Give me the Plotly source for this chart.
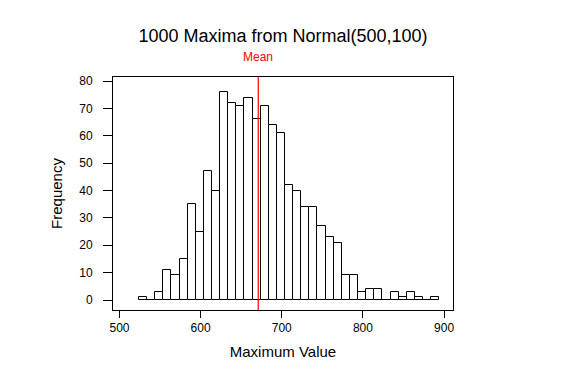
import plotly.graph_objects as go

# Histogram data
bin_start = 524
bin_width = 10
counts = [1, 0, 3, 11, 9, 15, 35, 25, 47, 40, 76, 72, 71, 74, 66, 71, 64, 61,
          42, 40, 34, 34, 27, 23, 21, 9, 9, 3, 4, 4, 0, 3, 1, 3, 1, 0, 1]
mean_value = 671
x_ticks = [500, 600, 700, 800, 900]
y_ticks = [0, 10, 20, 30, 40, 50, 60, 70, 80]

centers = [bin_start + bin_width * (i + 0.5) for i in range(len(counts))]

W, H = 559, 380  # page body has an 8px margin

fig = go.Figure()
fig.add_trace(go.Bar(
    x=centers, y=counts, width=bin_width,
    marker=dict(color="white", line=dict(color="black", width=1)),
    hoverinfo="x+y", showlegend=False,
))

fig.add_shape(type="line", xref="x", yref="paper", x0=mean_value, x1=mean_value,
              y0=0, y1=1, line=dict(color="red", width=1.2))
fig.add_annotation(x=mean_value, xref="x", y=1.0, yref="paper", yshift=20,
                   text="Mean", showarrow=False, yanchor="middle",
                   font=dict(color="red", size=12, family="Liberation Sans"))

fig.update_layout(
    width=W, height=H,
    margin=dict(l=105, r=114, t=69, b=78),
    paper_bgcolor="white", plot_bgcolor="white",
    font=dict(family="Liberation Sans", color="black", size=12),
    title=dict(text="1000 Maxima from Normal(500,100)", x=275 / W, xanchor="center",
               y=1 - 28 / H, yanchor="middle",
               font=dict(size=18, family="Liberation Sans", color="black")),
    bargap=0,
)
fig.update_xaxes(range=[492, 911], tickvals=x_ticks, ticks="outside", ticklen=7,
                 tickcolor="black", showline=True, linecolor="black", linewidth=1,
                 mirror=True, showgrid=False, zeroline=False,
                 title=dict(text="Maximum Value", font=dict(size=15), standoff=12),
                 tickfont=dict(size=12))
fig.update_yaxes(range=[-3.65, 81.5], tickvals=y_ticks, ticks="outside", ticklen=9,
                 tickcolor="black", showline=True, linecolor="black", linewidth=1,
                 mirror=True, showgrid=False, zeroline=False, ticklabelstandoff=8,
                 title=dict(text="Frequency", font=dict(size=15), standoff=12),
                 tickfont=dict(size=12))

fig.write_html("out.html")
